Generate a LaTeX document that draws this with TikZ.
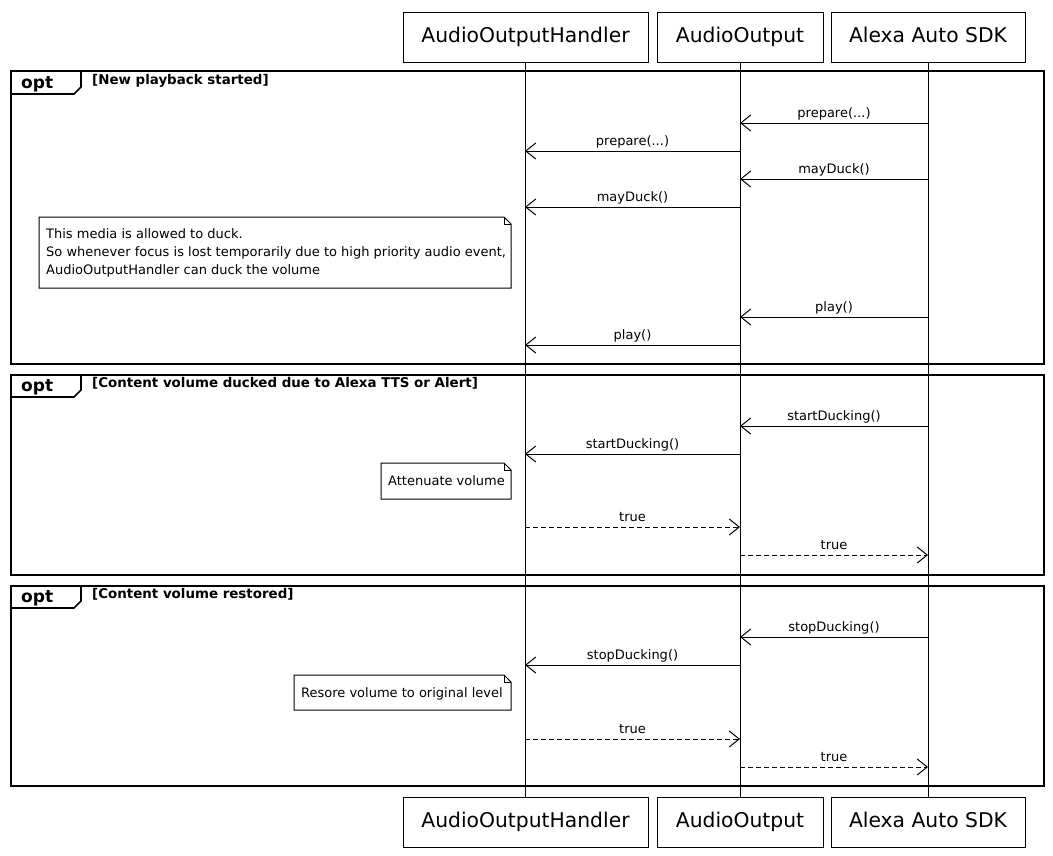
\documentclass[tikz,border=0pt]{standalone}
\usepackage{fontspec}
\setmainfont{DejaVu Sans}
\usetikzlibrary{arrows.meta}
\begin{document}
\begin{tikzpicture}[x=1pt,y=-1pt,
  part/.style={draw,line width=1pt,minimum height=50pt,inner sep=0pt,text height=15pt,text depth=4pt,font=\fontsize{20.3}{24}\selectfont},
  life/.style={line width=1pt},
  msg/.style={line width=1pt,-{Straight Barb[length=10pt,width=16pt,line width=1pt]}},
  ret/.style={msg,dash pattern=on 5pt off 3pt},
  lbl/.style={font=\fontsize{13}{15}\selectfont,inner sep=0pt,anchor=base},
  notetxt/.style={font=\fontsize{13}{15}\selectfont,inner sep=0pt,anchor=base west},
  notebox/.style={draw,line width=1pt,fill=white},
  frame/.style={draw,line width=1.6pt},
  optlbl/.style={font=\fontsize{17}{20}\bfseries\selectfont,inner sep=0pt,anchor=base west},
  condlbl/.style={font=\fontsize{13.4}{16}\bfseries\selectfont,inner sep=0pt,anchor=base west}
]
\useasboundingbox (0,0) rectangle (1053,855);

% participants
\node[part,minimum width=245pt] (hT) at (525.5,37) {AudioOutputHandler};
\node[part,minimum width=166pt] (aT) at (740,37) {AudioOutput};
\node[part,minimum width=194pt] (sT) at (928,37) {Alexa Auto SDK};
\node[part,minimum width=245pt] (hB) at (525.5,822) {AudioOutputHandler};
\node[part,minimum width=166pt] (aB) at (740,822) {AudioOutput};
\node[part,minimum width=194pt] (sB) at (928,822) {Alexa Auto SDK};

% lifelines
\coordinate (hx) at (525,0);
\coordinate (ax) at (740,0);
\coordinate (sx) at (928,0);
\draw[life] (hx |- hT.south) -- (hx |- hB.north);
\draw[life] (ax |- aT.south) -- (ax |- aB.north);
\draw[life] (sx |- sT.south) -- (sx |- sB.north);

% frames
\draw[frame] (11,71) rectangle (1044,364);
\draw[frame] (11,94) -- (74,94) -- (81,87) -- (81,71);
\node[optlbl] (o1) at (21,88) {opt};
\node[condlbl] (c1) at (92,84) {[New playback started]};

\draw[frame] (11,375) rectangle (1044,575);
\draw[frame] (11,397) -- (74,397) -- (81,390) -- (81,375);
\node[optlbl] (o2) at (21,391) {opt};
\node[condlbl] (c2) at (92,387) {[Content volume ducked due to Alexa TTS or Alert]};

\draw[frame] (11,586) rectangle (1044,786);
\draw[frame] (11,608) -- (74,608) -- (81,601) -- (81,586);
\node[optlbl] (o3) at (21,602) {opt};
\node[condlbl] (c3) at (92,598) {[Content volume restored]};

% messages frame 1
\draw[msg] (sx |- 0,123) -- (ax |- 0,123);
\node[lbl] (m1) at (834,117) {prepare(...)};
\draw[msg] (ax |- 0,151) -- (hx |- 0,151);
\node[lbl] (m2) at (632.5,145) {prepare(...)};
\draw[msg] (sx |- 0,179) -- (ax |- 0,179);
\node[lbl] (m3) at (834,173) {mayDuck()};
\draw[msg] (ax |- 0,207) -- (hx |- 0,207);
\node[lbl] (m4) at (632.5,201) {mayDuck()};
\draw[notebox] (39,217) -- (504,217) -- (511,224) -- (511,288) -- (39,288) -- cycle;
\draw[line width=1pt] (504,217) -- (504,224) -- (511,224);
\node[notetxt] (n1a) at (46,238.5) {This media is allowed to duck.};
\node[notetxt] (n1b) at (46,256.5) {So whenever focus is lost temporarily due to high priority audio event,};
\node[notetxt] (n1c) at (46,274.5) {AudioOutputHandler can duck the volume};
\draw[msg] (sx |- 0,317) -- (ax |- 0,317);
\node[lbl] (m5) at (834,311) {play()};
\draw[msg] (ax |- 0,345) -- (hx |- 0,345);
\node[lbl] (m6) at (632.5,339) {play()};

% messages frame 2
\draw[msg] (sx |- 0,426) -- (ax |- 0,426);
\node[lbl] (m7) at (834,420) {startDucking()};
\draw[msg] (ax |- 0,454) -- (hx |- 0,454);
\node[lbl] (m8) at (632.5,448) {startDucking()};
\draw[notebox] (381,463) -- (504,463) -- (511,470) -- (511,499) -- (381,499) -- cycle;
\draw[line width=1pt] (504,463) -- (504,470) -- (511,470);
\node[notetxt] (n2) at (388,485.5) {Attenuate volume};
\draw[ret] (hx |- 0,527) -- (ax |- 0,527);
\node[lbl] (m9) at (632.5,521) {true};
\draw[ret] (ax |- 0,555) -- (sx |- 0,555);
\node[lbl] (m10) at (834,549) {true};

% messages frame 3
\draw[msg] (sx |- 0,637) -- (ax |- 0,637);
\node[lbl] (m11) at (834,631) {stopDucking()};
\draw[msg] (ax |- 0,665) -- (hx |- 0,665);
\node[lbl] (m12) at (632.5,659) {stopDucking()};
\draw[notebox] (294,675) -- (504,675) -- (511,682) -- (511,710) -- (294,710) -- cycle;
\draw[line width=1pt] (504,675) -- (504,682) -- (511,682);
\node[notetxt] (n3) at (301,697) {Resore volume to original level};
\draw[ret] (hx |- 0,739) -- (ax |- 0,739);
\node[lbl] (m13) at (632.5,733) {true};
\draw[ret] (ax |- 0,767) -- (sx |- 0,767);
\node[lbl] (m14) at (834,761) {true};
\end{tikzpicture}
\end{document}
